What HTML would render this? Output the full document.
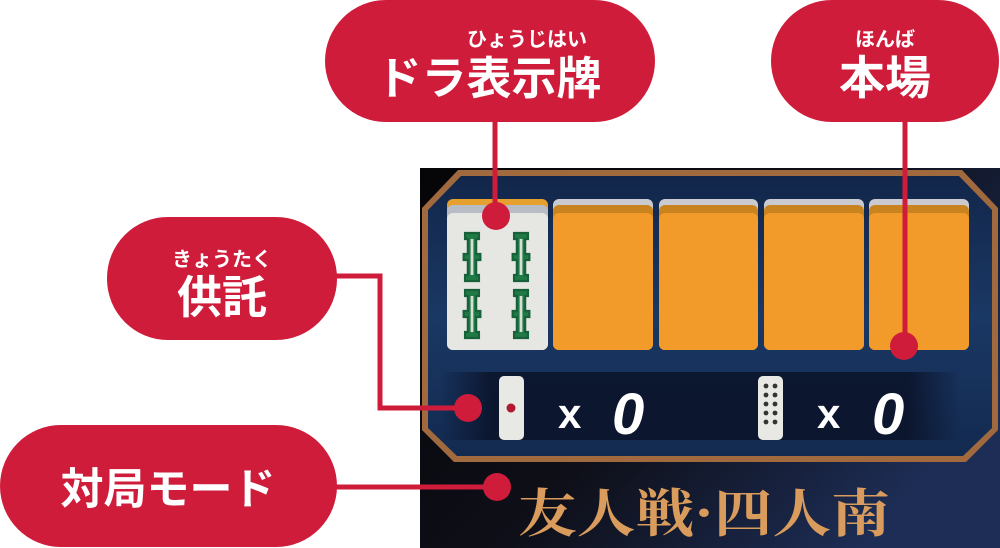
<!DOCTYPE html>
<html><head><meta charset="utf-8"><style>
html,body{margin:0;padding:0;background:#fff;}
body{width:1000px;height:548px;overflow:hidden;position:relative;font-family:"Liberation Sans","Noto Sans CJK JP",sans-serif;}
svg{position:absolute;left:0;top:0;}
.t{font-family:"Liberation Sans","Noto Sans CJK JP",sans-serif;fill:#fff;font-weight:bold;}
</style></head><body>
<svg width="1000" height="548" viewBox="0 0 1000 548">
<defs>
<linearGradient id="bg" x1="0" y1="0" x2="1" y2="0.6">
<stop offset="0" stop-color="#050507"/><stop offset="0.55" stop-color="#0e0f18"/><stop offset="1" stop-color="#1d2d55"/>
</linearGradient>
<linearGradient id="pn" x1="0" y1="0" x2="0" y2="1">
<stop offset="0" stop-color="#12264a"/><stop offset="0.5" stop-color="#1a3864"/><stop offset="1" stop-color="#132a50"/>
</linearGradient>
<linearGradient id="st" x1="0" y1="0" x2="1" y2="0">
<stop offset="0" stop-color="#0a1228" stop-opacity="0"/><stop offset="0.1" stop-color="#0a1228" stop-opacity="0.85"/><stop offset="0.9" stop-color="#0a1228" stop-opacity="0.85"/><stop offset="1" stop-color="#0a1228" stop-opacity="0"/>
</linearGradient>
<g id="bam" transform="scale(1.4,1.5)">
<path d="M-5 0h10v4h-2v10h3v4h-3v10h2v4h-10v-4h2v-10h-3v-4h3v-10h-2z" fill="#1f7a45" stroke="#16603a" stroke-width="1.5"/>
<rect x="-1" y="4" width="2" height="24" fill="#d8ddd6"/>
</g>
</defs>
<rect x="420" y="168" width="580" height="380" fill="url(#bg)"/>
<polygon points="422,208 458,170 962,170 998,208 998,430 966,462 454,462 422,430" fill="#a06a3e"/>
<polygon points="428,210 461,176 959,176 992,210 992,428 963,456 457,456 428,428" fill="url(#pn)"/>
<rect x="440" y="372" width="520" height="68" fill="url(#st)"/>
<rect x="447" y="199" width="101" height="151" rx="6" fill="#e6a030"/>
<rect x="447" y="205" width="101" height="145" rx="6" fill="#b8bcc4"/>
<rect x="447" y="213" width="101" height="137" rx="6" fill="#e6e7e2"/>
<g transform="translate(472,233)"><use href="#bam"/></g>
<g transform="translate(521,233)"><use href="#bam"/></g>
<g transform="translate(472,290)"><use href="#bam"/></g>
<g transform="translate(521,290)"><use href="#bam"/></g>
<g>
<rect x="553" y="199" width="100" height="151" rx="6" fill="#c9cbd0"/>
<rect x="553" y="205" width="100" height="145" rx="6" fill="#c98420"/>
<rect x="553" y="213" width="100" height="137" rx="6" fill="#f29a2a"/>
<rect x="659" y="199" width="99" height="151" rx="6" fill="#c9cbd0"/>
<rect x="659" y="205" width="99" height="145" rx="6" fill="#c98420"/>
<rect x="659" y="213" width="99" height="137" rx="6" fill="#f29a2a"/>
<rect x="764" y="199" width="100" height="151" rx="6" fill="#c9cbd0"/>
<rect x="764" y="205" width="100" height="145" rx="6" fill="#c98420"/>
<rect x="764" y="213" width="100" height="137" rx="6" fill="#f29a2a"/>
<rect x="869" y="199" width="100" height="151" rx="6" fill="#c9cbd0"/>
<rect x="869" y="205" width="100" height="145" rx="6" fill="#c98420"/>
<rect x="869" y="213" width="100" height="137" rx="6" fill="#f29a2a"/>
</g>
<rect x="499" y="376" width="25" height="64" rx="5" fill="#e8e8e4"/>
<circle cx="511" cy="408" r="4.5" fill="#b01a30"/>
<rect x="758" y="376" width="25" height="64" rx="5" fill="#e8e8e4"/>
<g fill="#333"><circle cx="766" cy="386" r="2.4"/><circle cx="775" cy="386" r="2.4"/><circle cx="766" cy="395" r="2.4"/><circle cx="775" cy="395" r="2.4"/><circle cx="766" cy="404" r="2.4"/><circle cx="775" cy="404" r="2.4"/><circle cx="766" cy="413" r="2.4"/><circle cx="775" cy="413" r="2.4"/><circle cx="766" cy="422" r="2.4"/><circle cx="775" cy="422" r="2.4"/></g>
<text x="558" y="428" class="t" font-size="42">x</text>
<text x="612" y="434" class="t" font-size="58" font-style="italic">0</text>
<text x="817" y="428" class="t" font-size="42">x</text>
<text x="872" y="434" class="t" font-size="58" font-style="italic">0</text>
<text x="518" y="532" font-size="52" fill="#d99c5c" font-family="'Noto Serif CJK SC',serif" font-weight="bold" textLength="372" lengthAdjust="spacingAndGlyphs">友人戦·四人南</text>
<g stroke="#cf1c3b" stroke-width="5" fill="none">
<line x1="495" y1="118" x2="495" y2="215"/>
<line x1="905" y1="118" x2="905" y2="345"/>
<polyline points="335,276 380,276 380,408 466,408"/>
<line x1="335" y1="487" x2="496" y2="487"/>
</g>
<g fill="#cf1c3b">
<circle cx="496" cy="216" r="14"/>
<circle cx="904" cy="346" r="14"/>
<circle cx="468" cy="408" r="14"/>
<circle cx="497" cy="487" r="14"/>
<rect x="325" y="0" width="330" height="122" rx="61"/>
<rect x="771" y="0" width="228" height="122" rx="61"/>
<rect x="107" y="217" width="230" height="123" rx="61"/>
<rect x="0" y="425" width="337" height="122" rx="61"/>
</g>
<g class="t" text-anchor="middle">
<text x="527" y="46" font-size="20">ひょうじはい</text>
<text x="489" y="94" font-size="45">ドラ表示牌</text>
<text x="885" y="46" font-size="20">ほんば</text>
<text x="885" y="94" font-size="46">本場</text>
<text x="222" y="266" font-size="20">きょうたく</text>
<text x="222" y="313" font-size="45">供託</text>
<text x="168" y="504" font-size="43">対局モード</text>
</g>
</svg>
</body></html>
